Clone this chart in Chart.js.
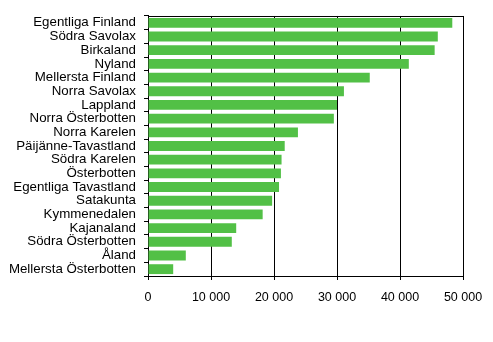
<!DOCTYPE html>
<html>
<head>
<meta charset="utf-8">
<script src="https://cdn.jsdelivr.net/npm/chart.js@4"></script>
<style>
  html, body { margin: 0; padding: 0; background: #ffffff; }
  #wrap { width: 493px; height: 342px; }
</style>
</head>
<body>
<div id="wrap"><canvas id="regionChart" width="493" height="342"></canvas></div>
<script>
// Landskap och värden
const regions = [
    "Egentliga Finland", "Södra Savolax", "Birkaland", "Nyland", "Mellersta Finland",
    "Norra Savolax", "Lappland", "Norra Österbotten", "Norra Karelen", "Päijänne-Tavastland",
    "Södra Karelen", "Österbotten", "Egentliga Tavastland", "Satakunta", "Kymmenedalen",
    "Kajanaland", "Södra Österbotten", "Åland", "Mellersta Österbotten"
];
const values = [
    48300, 46000, 45500, 41400, 35200,
    31100, 30000, 29500, 23800, 21700,
    21200, 21100, 20800, 19700, 18200,
    14000, 13300, 6000, 4000
];
const xTicks = [0, 10000, 20000, 30000, 40000, 50000];

const barColor = "#52c046";

function formatNumber(v) {
    return String(v).replace(/\B(?=(\d{3})+(?!\d))/g, " ");
}

// ram upptill
const topLine = {
    id: "topLine",
    afterDraw(chart) {
        const a = chart.chartArea;
        const ctx = chart.ctx;
        ctx.save();
        ctx.strokeStyle = "#000000";
        ctx.lineWidth = 1;
        ctx.beginPath();
        ctx.moveTo(a.left, Math.round(a.top) + 0.5);
        ctx.lineTo(a.right, Math.round(a.top) + 0.5);
        ctx.stroke();
        ctx.restore();
    }
};

const ctx = document.getElementById("regionChart").getContext("2d");
new Chart(ctx, {
    type: "bar",
    data: {
        labels: regions,
        datasets: [{
            data: values,
            backgroundColor: barColor,
            borderWidth: 0,
            barPercentage: 0.72,
            categoryPercentage: 1
        }]
    },
    options: {
        indexAxis: "y",
        responsive: false,
        animation: false,
        layout: { padding: { top: 14, right: 30, left: 0, bottom: 0 } },
        plugins: {
            legend: { display: false },
            tooltip: { enabled: false }
        },
        scales: {
            x: {
                min: 0,
                max: 50000,
                afterBuildTicks(scale) {
                    scale.ticks = xTicks.map(v => ({ value: v }));
                },
                afterFit(scale) { scale.height = 66; },
                grid: {
                    color: "#000000",
                    lineWidth: 1,
                    drawTicks: true,
                    tickLength: 4
                },
                border: { display: true, color: "#000000", width: 1 },
                ticks: {
                    color: "#000000",
                    font: { family: "'Liberation Sans', Arial", size: 12.5 },
                    padding: 10,
                    maxRotation: 0,
                    callback: (v) => formatNumber(v)
                }
            },
            y: {
                afterFit(scale) { scale.width = 148; },
                grid: {
                    offset: true,
                    drawOnChartArea: false,
                    drawTicks: true,
                    tickLength: 4,
                    color: "#000000"
                },
                border: { display: true, color: "#000000", width: 1 },
                ticks: {
                    color: "#000000",
                    font: { family: "'Liberation Sans', Arial", size: 13.3 },
                    padding: 8,
                    autoSkip: false
                }
            }
        }
    },
    plugins: [topLine]
});
</script>
</body>
</html>
